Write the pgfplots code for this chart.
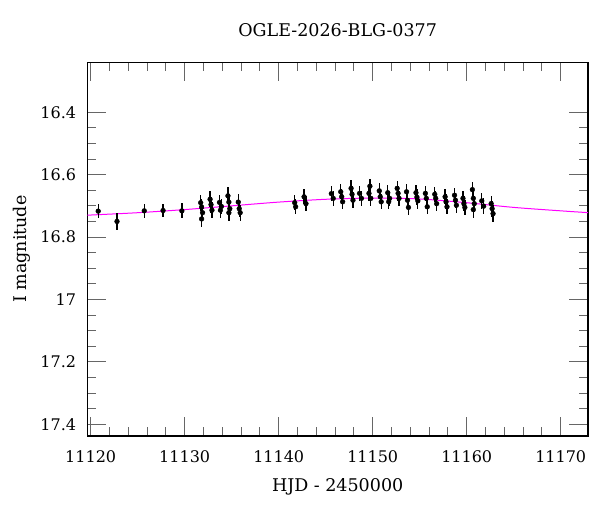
\documentclass[border=0pt]{standalone}
\usepackage{fontspec}
\setmainfont{DejaVu Serif}
\usepackage{pgfplots}
\pgfplotsset{compat=1.18}
\usepackage{pgfplotstable}
\definecolor{modelmag}{RGB}{255,0,255}

\pgfplotstableread{
x y e
11120.8 16.717 0.012
11122.8 16.750 0.018
11125.7 16.716 0.012
11127.7 16.715 0.012
11129.7 16.716 0.014
11131.7 16.690 0.016
11131.8 16.704 0.016
11131.9 16.722 0.016
11131.8 16.742 0.016
11132.7 16.679 0.016
11132.8 16.696 0.016
11132.9 16.714 0.016
11133.7 16.689 0.015
11133.9 16.702 0.015
11133.8 16.714 0.015
11134.6 16.668 0.018
11134.7 16.688 0.016
11134.8 16.709 0.016
11134.7 16.722 0.016
11135.7 16.688 0.016
11135.8 16.709 0.016
11135.9 16.722 0.016
11141.7 16.690 0.014
11141.8 16.703 0.014
11142.7 16.671 0.014
11142.9 16.693 0.014
11145.6 16.661 0.014
11145.8 16.676 0.014
11146.6 16.655 0.015
11146.7 16.671 0.015
11146.8 16.687 0.015
11147.7 16.644 0.016
11147.8 16.663 0.016
11147.9 16.682 0.016
11148.6 16.660 0.014
11148.8 16.676 0.014
11149.7 16.637 0.014
11149.6 16.660 0.014
11149.8 16.676 0.014
11150.7 16.652 0.015
11150.8 16.671 0.015
11150.9 16.687 0.015
11151.6 16.658 0.015
11151.8 16.676 0.015
11151.7 16.687 0.015
11152.6 16.644 0.014
11152.7 16.660 0.014
11152.8 16.676 0.014
11153.6 16.655 0.015
11153.7 16.682 0.015
11153.8 16.705 0.015
11154.6 16.658 0.015
11154.7 16.672 0.015
11154.8 16.684 0.015
11155.6 16.660 0.015
11155.7 16.676 0.015
11155.8 16.703 0.015
11156.6 16.663 0.015
11156.7 16.676 0.015
11156.8 16.693 0.015
11157.7 16.671 0.015
11157.8 16.687 0.015
11157.9 16.703 0.015
11158.7 16.666 0.015
11158.8 16.682 0.015
11158.9 16.698 0.015
11159.6 16.676 0.015
11159.7 16.693 0.015
11159.8 16.705 0.015
11160.6 16.648 0.016
11160.7 16.676 0.016
11160.8 16.693 0.016
11160.7 16.712 0.016
11161.6 16.684 0.015
11161.8 16.701 0.015
11162.6 16.693 0.016
11162.7 16.709 0.016
11162.8 16.725 0.018
}\photometry

\pgfplotstableread{
x y
11119.6 16.730
11125.0 16.722
11130.0 16.712
11135.0 16.700
11140.0 16.688
11145.0 16.679
11150.0 16.675
11155.0 16.678
11160.0 16.690
11165.0 16.705
11170.0 16.716
11173.0 16.722
}\model

\begin{document}
\begin{tikzpicture}
\useasboundingbox (0,0) rectangle (600pt,512pt);
\begin{axis}[
  scale only axis,
  width=500.7pt, height=373.7pt,
  at={(87.3pt,76pt)}, anchor=south west,
  xmin=11119.64, xmax=11172.9,
  ymin=16.24, ymax=17.4376,
  y dir=reverse,
  xtick={11120,11130,11140,11150,11160,11170},
  ytick={16.4,16.6,16.8,17,17.2,17.4},
  scaled x ticks=false,
  scaled y ticks=false,
  xticklabel={\pgfmathprintnumber[fixed,precision=0,1000 sep={}]{\tick}},
  minor x tick num=4,
  minor y tick num=3,
  tick pos=both,
  major tick length=19pt,
  minor tick length=9pt,
  tick style={black!60, line width=0.9pt},
  axis line style={line width=1.2pt},
  /pgf/number format/assume math mode=true,
  /pgf/number format/1000 sep={},
  ticklabel style={font=\fontsize{16}{16}\selectfont},
  xticklabel style={anchor=base, yshift=-26.7pt},
  yticklabel style={anchor=east, inner sep=0pt, xshift=-11pt},
  title={OGLE-2026-BLG-0377},
  title style={font=\fontsize{17.5}{17.5}\selectfont, at={(axis description cs:0.5,1.0535)}, anchor=base},
  xlabel={HJD - 2450000},
  xlabel style={font=\fontsize{17.5}{17.5}\selectfont, at={(axis description cs:0.5,-0.149)}, anchor=base},
  ylabel={I magnitude},
  ylabel style={font=\fontsize{17.5}{17.5}\selectfont, at={(axis description cs:-0.1304,0.5)}, anchor=center},
]
\addplot[color=modelmag, line width=1pt, smooth] table {\model};
\addplot[only marks, mark=*, mark size=2.4pt, black,
  error bars/.cd, y dir=both, y explicit,
  error mark=|,
  error bar style={line width=1.2pt, black},
  error mark options={rotate=90, mark size=3pt, line width=1.3pt, black}]
  table[x=x, y=y, y error=e] {\photometry};
\end{axis}
\end{tikzpicture}
\end{document}
